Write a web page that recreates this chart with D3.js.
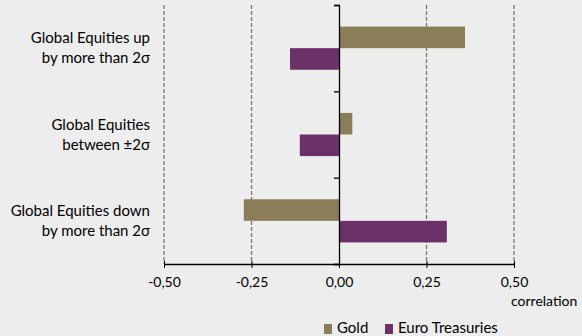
<!DOCTYPE html>
<html>
<head>
<meta charset="utf-8">
<script src="https://cdn.jsdelivr.net/npm/d3@7"></script>
<style>
	body { margin: 0; background: #ededed; }
	svg { display: block; font-family: Lato, "Open Sans", sans-serif; }
</style>
</head>
<body>
<svg id="chart" width="582" height="336"></svg>
<script>
var categories = [
	["Global Equities up", "by more than 2\u03c3"],
	["Global Equities", "between \u00b12\u03c3"],
	["Global Equities down", "by more than 2\u03c3"]
];
var seriesNames = ["Gold", "Euro Treasuries"];
var gold = [0.36, 0.038, -0.272];
var euroTreasuries = [-0.14, -0.112, 0.308];
var xTicks = [-0.5, -0.25, 0, 0.25, 0.5];
var colors = ["#8b7d59", "#6c3169"];

var svg = d3.select("#chart");
var x = d3.scaleLinear().domain([-0.5, 0.5]).range([164, 514]);
var y = d3.scaleBand().domain(d3.range(categories.length)).range([5, 264]);
var inner = d3.scaleBand().domain([0, 1]).range([0, y.bandwidth()]).paddingInner(0).paddingOuter(1);
var fmt = function(d) { return d3.format(".2f")(d).replace(".", ",").replace("\u2212", "-"); };

// dashed grid
svg.append("g").selectAll("line")
	.data(xTicks.filter(function(d) { return d != 0; }))
	.join("line")
	.attr("x1", function(d) { return x(d); })
	.attr("x2", function(d) { return x(d); })
	.attr("y1", 5).attr("y2", 264)
	.attr("stroke", "#777").attr("stroke-width", 1.3)
	.attr("stroke-dasharray", "4,2");

// bars
var series = [gold, euroTreasuries];
series.forEach(function(vals, s) {
	svg.append("g").selectAll("rect")
		.data(vals)
		.join("rect")
		.attr("x", function(d) { return x(Math.min(0, d)); })
		.attr("width", function(d) { return Math.abs(x(d) - x(0)); })
		.attr("y", function(d, i) { return y(i) + inner(s); })
		.attr("height", inner.bandwidth())
		.attr("fill", colors[s]);
});

// bottom axis
var xAxis = svg.append("g").attr("transform", "translate(0,264)")
	.call(d3.axisBottom(x).tickValues(xTicks).tickFormat(fmt).tickSize(4).tickSizeOuter(0));
xAxis.select(".domain").attr("stroke", "#000").attr("stroke-width", 1.3);
xAxis.selectAll(".tick line").attr("stroke", "#000").attr("y1", -3).attr("y2", 4);
xAxis.selectAll(".tick text").attr("font-size", 14).attr("fill", "#000").attr("dy", "1.15em")
	.attr("font-family", "Lato, sans-serif");

// zero axis
var yAxis = svg.append("g").attr("transform", "translate(" + x(0) + ",0)")
	.call(d3.axisLeft(d3.scaleLinear().domain([0, 3]).range([5, 264])).ticks(3).tickFormat("").tickSize(5).tickSizeOuter(5));
yAxis.select(".domain").attr("stroke", "#000").attr("stroke-width", 1.3);
yAxis.selectAll(".tick line").attr("stroke", "#000").attr("stroke-width", 1.3);

// category labels
var labels = svg.append("g");
categories.forEach(function(lines, i) {
	var cy = y(i) + y.bandwidth() / 2;
	labels.append("text")
		.attr("x", 150).attr("y", cy - 5)
		.attr("text-anchor", "end").attr("font-size", 15).attr("fill", "#000")
		.selectAll("tspan").data(lines).join("tspan")
		.attr("x", 150).attr("dy", function(d, j) { return j == 0 ? 0 : 20; })
		.text(function(d) { return d; });
});

// axis title
svg.append("text").attr("x", 511).attr("y", 306).attr("font-size", 14).attr("fill", "#000").text("correlation");

// legend
var legendX = [324, 385];
var legend = svg.append("g").selectAll("g").data(seriesNames).join("g")
	.attr("transform", function(d, i) { return "translate(" + legendX[i] + ",321)"; });
legend.append("rect").attr("width", 8).attr("height", 10).attr("y", 3)
	.attr("fill", function(d, i) { return colors[i]; });
legend.append("text").attr("x", 13).attr("y", 12).attr("font-size", 15).attr("fill", "#000")
	.text(function(d) { return d; });
</script>
</body>
</html>
